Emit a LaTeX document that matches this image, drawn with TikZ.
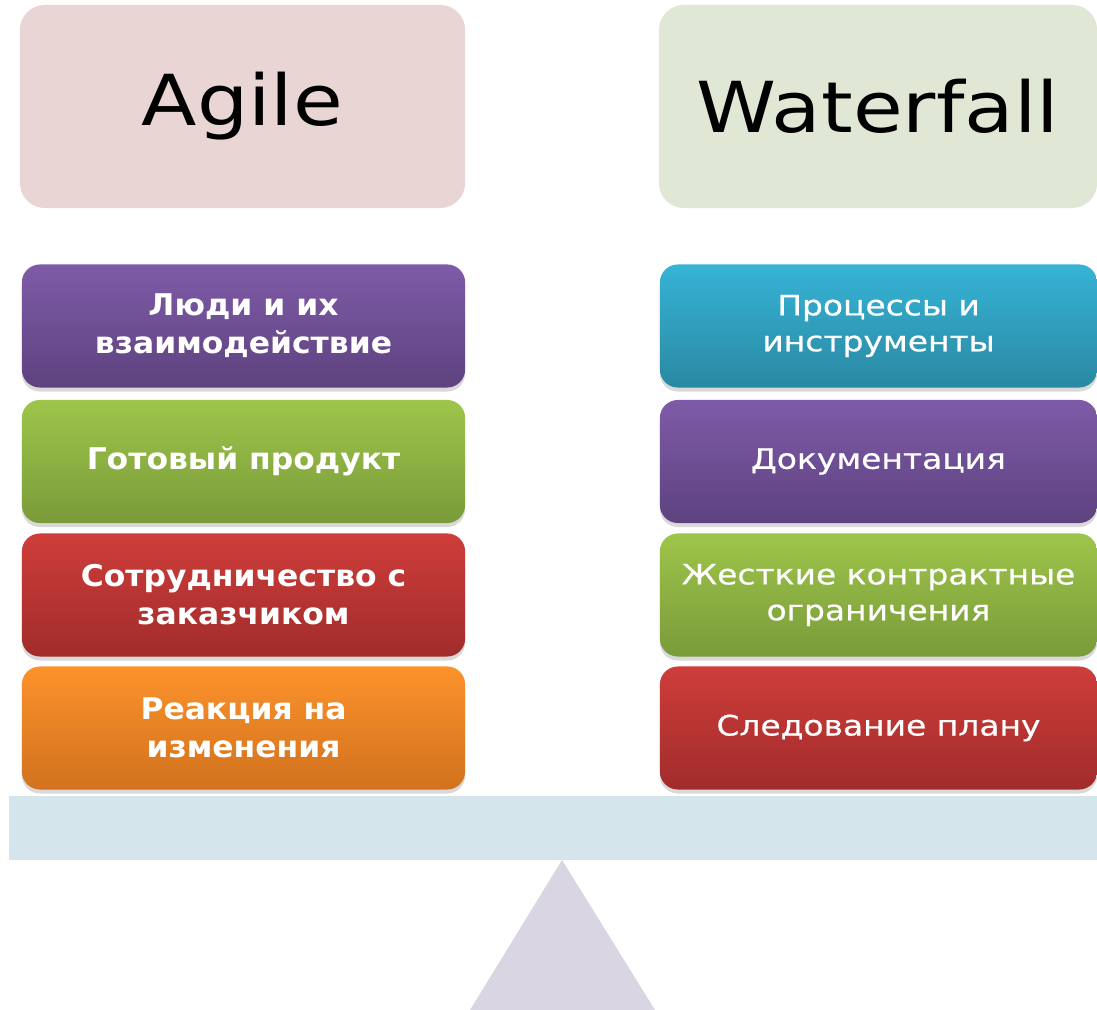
\documentclass[tikz,border=0pt]{standalone}
\usepackage{fontspec}
\setmainfont{DejaVu Sans}
\newfontfamily\headfont[FakeStretch=1.15]{DejaVu Sans}
\newfontfamily\leftfont[FakeStretch=1.05]{DejaVu Sans}
\newfontfamily\rightfont[FakeStretch=1.17,FakeBold=0.6]{DejaVu Sans}
\usetikzlibrary{shadows}

\definecolor{agilebg}{HTML}{EAD5D5}
\definecolor{waterbg}{HTML}{E0E8D5}
\definecolor{beam}{HTML}{D4E5EC}
\definecolor{pivot}{HTML}{DAD5E3}
\definecolor{purpleA}{HTML}{7E5BA8}
\definecolor{purpleB}{HTML}{5E427F}
\definecolor{greenA}{HTML}{9EC54A}
\definecolor{greenB}{HTML}{7A9B3A}
\definecolor{redA}{HTML}{CE3D3A}
\definecolor{redB}{HTML}{A12C2B}
\definecolor{orangeA}{HTML}{FC922B}
\definecolor{orangeB}{HTML}{D1721E}
\definecolor{cyanA}{HTML}{36B4D6}
\definecolor{cyanB}{HTML}{2A88A2}

\begin{document}
\begin{tikzpicture}[x=0.01cm,y=-0.01cm,
	headbox/.style={rounded corners=0.25cm,minimum height=2.03cm,inner sep=0pt,font=\headfont\fontsize{20}{24}\selectfont},
	itembox/.style={rounded corners=0.18cm,minimum height=1.23cm,inner sep=0pt,align=center,text=white,
		drop shadow={opacity=0.3,shadow xshift=0pt,shadow yshift=-0.04cm}},
	leftbox/.style={itembox,minimum width=4.43cm,font=\leftfont\bfseries\fontsize{8.5}{10.8}\selectfont},
	rightbox/.style={itembox,minimum width=4.37cm,font=\rightfont\fontsize{8}{10.2}\selectfont}]

\useasboundingbox (0,0) rectangle (1097,1010);

% pans
\node[headbox,fill=agilebg,minimum width=4.45cm] (agile) at (242.5,106.5) {Agile};
\node[headbox,fill=waterbg,minimum width=4.38cm] (waterfall) at (878,106.5) {Waterfall};

% agile values
\node[leftbox,top color=purpleA,bottom color=purpleB] (people) at (243.5,326) {Люди и их\\взаимодействие};
\node[leftbox,top color=greenA,bottom color=greenB] (product) at (243.5,461.5) {Готовый продукт};
\node[leftbox,top color=redA,bottom color=redB] (customer) at (243.5,595) {Сотрудничество с\\заказчиком};
\node[leftbox,top color=orangeA,bottom color=orangeB] (change) at (243.5,728) {Реакция на\\изменения};

% waterfall values
\node[rightbox,top color=cyanA,bottom color=cyanB] (process) at (878.5,326) {Процессы и\\инструменты};
\node[rightbox,top color=purpleA,bottom color=purpleB] (docs) at (878.5,461.5) {Документация};
\node[rightbox,top color=greenA,bottom color=greenB] (contract) at (878.5,595) {Жесткие контрактные\\ограничения};
\node[rightbox,top color=redA,bottom color=redB] (plan) at (878.5,728) {Следование плану};

% scales
\fill[color=beam] (9,796) rectangle (1097,860);
\fill[color=pivot] (470,1010)--(562,860)--(655,1010)--cycle;

\end{tikzpicture}
\end{document}
